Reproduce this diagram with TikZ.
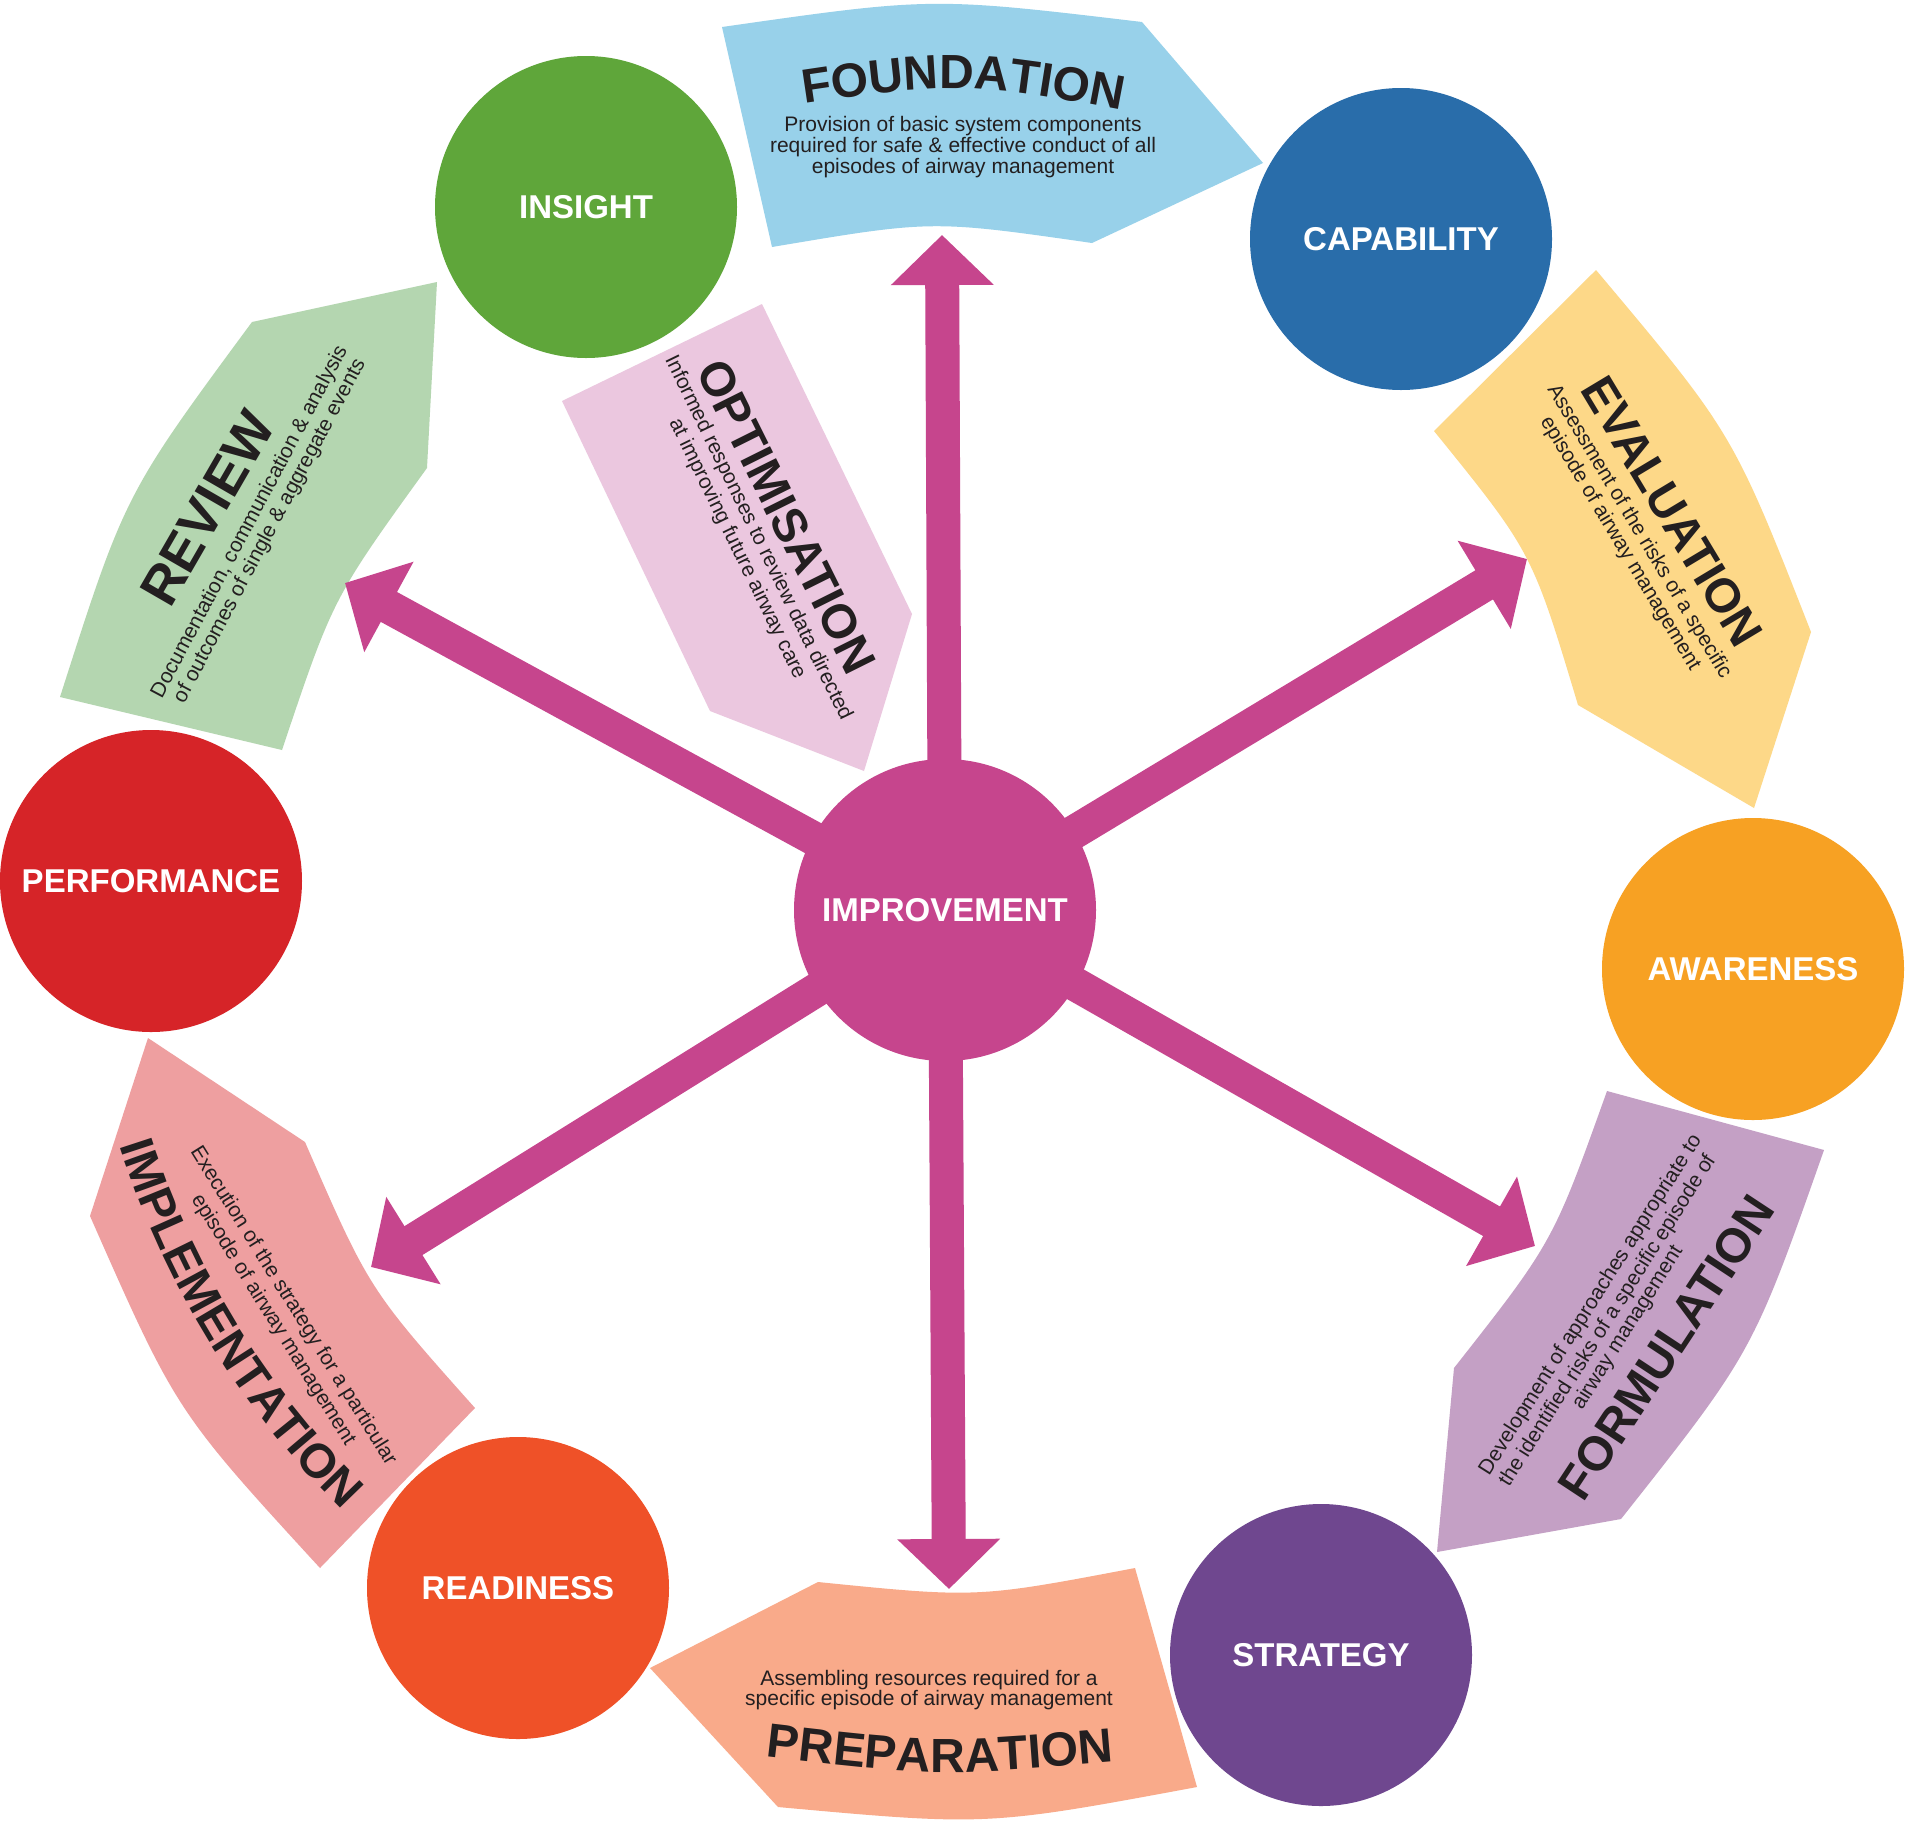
\documentclass[tikz,border=0pt]{standalone}
\usepackage{fontspec}
\setmainfont{Liberation Sans}
\usetikzlibrary{arrows.meta,decorations.text}
\definecolor{insightc}{RGB}{95,166,58}
\definecolor{capc}{RGB}{41,109,170}
\definecolor{awarec}{RGB}{247,161,35}
\definecolor{stratc}{RGB}{111,71,143}
\definecolor{readyc}{RGB}{239,81,40}
\definecolor{perfc}{RGB}{214,36,40}
\definecolor{impc}{RGB}{198,69,141}
\definecolor{foundc}{RGB}{152,209,234}
\definecolor{evalc}{RGB}{253,216,136}
\definecolor{formc}{RGB}{196,160,197}
\definecolor{prepc}{RGB}{249,170,138}
\definecolor{implc}{RGB}{238,159,160}
\definecolor{reviewc}{RGB}{180,214,176}
\definecolor{optc}{RGB}{235,199,223}
\definecolor{darktext}{RGB}{35,31,32}
\newcommand{\ttlfont}{\bfseries\fontsize{24}{24}\selectfont}
\tikzset{
  circ/.style={circle, minimum size=151pt, inner sep=0pt, text=white,
    font=\bfseries\fontsize{16.5}{16.5}\selectfont},
  desc/.style={inner sep=0pt, text=darktext, text height=7.6pt, text depth=2.2pt,
    font=\fontsize{10.5}{10.5}\selectfont},
  ttl/.style={inner sep=0pt, text=darktext, text height=17.2pt, text depth=0pt,
    font=\ttlfont},
  bigarrow/.style={draw=impc, line width=17pt, -{Triangle[width=50pt,length=25pt]}},
  curvedttl/.style={decorate, decoration={text along path, text align=center,
    text color=darktext, text={|\ttlfont|#1}}}
}
\begin{document}
\begin{tikzpicture}[x=0.5pt,y=-0.5pt]
\useasboundingbox (0,0) rectangle (1906,1821);
\fill[white] (0,0) rectangle (1906,1821);

% ---- banners ----
\fill[foundc] (722,27) .. controls (932,-3) .. (1142,22) -- (1263,163) -- (1092,243)
  .. controls (932,220) .. (772,247) -- cycle;
\fill[evalc] (1596,270) .. controls (1733,433) .. (1811,632) -- (1754,808) -- (1578,705)
  .. controls (1532,552) .. (1434,431) -- cycle;
\fill[formc] (1607,1091) -- (1824,1150) .. controls (1753,1352) .. (1621,1519) -- (1437,1552)
  -- (1454,1368) .. controls (1553,1242) .. (1607,1091) -- cycle;
\fill[prepc] (818,1582) .. controls (977,1598) .. (1135,1568) -- (1197,1787)
  .. controls (987,1826) .. (778,1807) -- (650,1668) -- cycle;
\fill[implc] (148,1038) -- (305,1142) .. controls (369,1289) .. (475,1408) -- (320,1568)
  .. controls (176,1411) .. (90,1216) -- cycle;
\fill[reviewc] (60,697) .. controls (125,494) .. (252,322) -- (437,282) -- (427,468)
  .. controls (333,598) .. (282,750) -- cycle;
\fill[optc] (562,401) -- (762,304) -- (912,614) -- (864,771) -- (710,711) -- cycle;

% ---- banner texts ----
\path[curvedttl=FOUNDATION] (750,112) .. controls (963,79) .. (1175,121);
\node[desc, anchor=base] (fd1) at (963,131) {Provision of basic system components};
\node[desc, anchor=base] (fd2) at (963,152) {required for safe \& effective conduct of all};
\node[desc, anchor=base] (fd3) at (963,173) {episodes of airway management};

\node[ttl, rotate=-59] (evalt) at (1673,511) {EVALUATION};
\node[desc, rotate=-59] (ev1) at (1639,532) {Assessment of the risks of a specific};
\node[desc, rotate=-59] (ev2) at (1620,544) {episode of airway management};

\node[ttl, rotate=56.6] (formt) at (1666,1347) {FORMULATION};
\node[desc, rotate=57.7] (fo1) at (1591,1305) {Development of approaches appropriate to};
\node[desc, rotate=57.7] (fo2) at (1608,1321) {the identified risks of a specific episode of};
\node[desc, rotate=57.7] (fo3) at (1628,1328) {airway management};

\node[desc, anchor=base] (pr1) at (929,1685) {Assembling resources required for a};
\node[desc, anchor=base] (pr2) at (929,1705) {specific episode of airway management};
\path[curvedttl=PREPARATION] (745,1754) .. controls (940,1777) .. (1135,1760);

\path[curvedttl=IMPLEMENTATION] (90.6,1028.7) .. controls (130,1252.3) and (252.8,1452.7) .. (434.2,1589.4);
\node[desc, rotate=-58] (im1) at (293,1306) {Execution of the strategy for a particular};
\node[desc, rotate=-58] (im2) at (273,1320) {episode of airway management};

\node[ttl, rotate=60, font=\bfseries\fontsize{27}{27}\selectfont, text height=19.3pt] (revt) at (207,508) {REVIEW};
\node[desc, rotate=62] (rv1) at (250,522) {Documentation, communication \& analysis};
\node[desc, rotate=62] (rv2) at (270,531) {of outcomes of single \& aggregate events};

\node[ttl, rotate=-63.5] (optt) at (787,516) {OPTIMISATION};
\node[desc, rotate=-64] (op1) at (758,538) {Informed responses to review data directed};
\node[desc, rotate=-64] (op2) at (737,549) {at improving future airway care};

% ---- arrows ----
\coordinate (ctr) at (945,910);
\coordinate (tipN) at (942,235);
\coordinate (tipS) at (949,1589);
\coordinate (tipNW) at (345,583);
\coordinate (tipNE) at (1527,559);
\coordinate (tipSW) at (371,1267);
\coordinate (tipSE) at (1535,1246);
\draw[bigarrow] (ctr) -- (tipN);
\draw[bigarrow] (ctr) -- (tipS);
\draw[bigarrow] (ctr) -- (tipNW);
\draw[bigarrow] (ctr) -- (tipNE);
\draw[bigarrow] (ctr) -- (tipSW);
\draw[bigarrow] (ctr) -- (tipSE);

% ---- circles ----
\node[circ, fill=impc] (improvement) at (ctr) {IMPROVEMENT};
\node[circ, fill=insightc] (insight) at (586,207) {INSIGHT};
\node[circ, fill=capc] (capability) at (1401,239) {CAPABILITY};
\node[circ, fill=awarec] (awareness) at (1753,969) {AWARENESS};
\node[circ, fill=stratc] (strategy) at (1321,1655) {STRATEGY};
\node[circ, fill=readyc] (readiness) at (518,1588) {READINESS};
\node[circ, fill=perfc] (performance) at (151,881) {PERFORMANCE};
\end{tikzpicture}
\end{document}
